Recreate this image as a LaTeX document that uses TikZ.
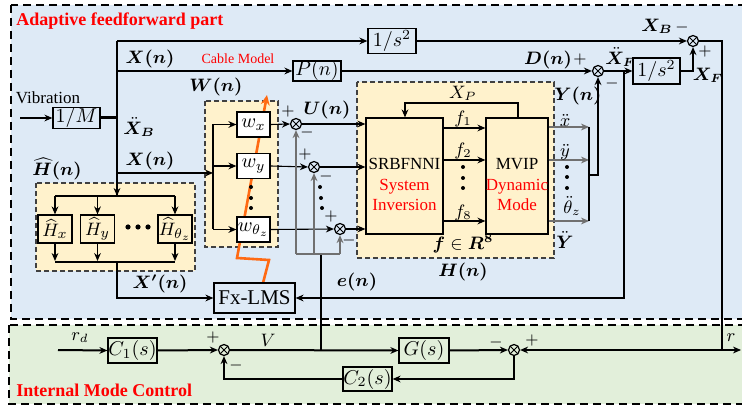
\documentclass[tikz,border=0pt]{standalone}
\usepackage{fontspec}
\setmainfont{Liberation Serif}
\usepackage{amsmath,bm}
\usetikzlibrary{arrows.meta}
\definecolor{bgblue}{HTML}{DEEAF6}
\definecolor{bgyel}{HTML}{FFF2CC}
\definecolor{bggreen}{HTML}{E2EFDA}
\definecolor{orng}{HTML}{FF6A13}
\definecolor{gline}{HTML}{707070}
\tikzset{
  outer/.style={draw=black, dash pattern=on 4pt off 2.5pt, line width=1pt},
  inbox/.style={draw=black!75, fill=bgyel, dash pattern=on 2.5pt off 1.5pt, line width=0.6pt},
  ttl/.style={text=red, font=\fontsize{9}{10}\selectfont\bfseries, inner sep=0pt, anchor=west},
  lbl/.style={font=\fontsize{8.6}{9}\selectfont, inner sep=0pt},
  sgn/.style={font=\fontsize{8}{9}\selectfont, inner sep=0pt},
  txt/.style={font=\fontsize{8.5}{10}\selectfont, inner sep=0pt},
  rtxt/.style={font=\fontsize{8.5}{10}\selectfont, inner sep=0pt, text=red},
  bx/.style={draw, line width=0.6pt, inner sep=0pt, font=\fontsize{10}{12}\selectfont},
  wbx/.style={bx, fill=white, minimum width=16.5pt, minimum height=12.5pt},
  hbx/.style={bx, minimum width=17pt, minimum height=14pt, font=\fontsize{9.5}{11}\selectfont},
  sumj/.style={circle, draw, line width=0.6pt, minimum size=5.5pt, inner sep=0pt,
    path picture={\draw[line width=0.5pt] (path picture bounding box.north west) -- (path picture bounding box.south east)
      (path picture bounding box.north east) -- (path picture bounding box.south west);}},
  thk/.style={line width=1pt},
  thn/.style={line width=0.55pt},
  arr/.style={-{Stealth[length=4pt,width=3.4pt]}},
  gl/.style={draw=gline, line width=0.7pt},
  dotn/.style={circle, fill=black, inner sep=0pt, minimum size=2pt}
}
\begin{document}
\begin{tikzpicture}[x=0.5pt,y=-0.5pt]
\clip (0,0) rectangle (742,410);
\fill[white] (0,0) rectangle (742,410);
% regions
\draw[outer, fill=bgblue] (11,5) rectangle (760,319);
\draw[outer, fill=bggreen] (9,325) rectangle (760,404);
\node[ttl] (t1) at (16,21) {Adaptive feedforward part};
\node[ttl] (t2) at (16,390) {Internal Mode Control};
% yellow dashed groups
\draw[inbox] (205,101) rectangle (278,247);
\draw[inbox] (36,183) rectangle (195,271);
\draw[inbox] (357,82) rectangle (554,258);

% orange adaptation arrow
\coordinate (o1) at (263,283);
\coordinate (o2) at (269,260);
\coordinate (o3) at (237,258);
\coordinate (o4) at (267,95);
\draw[orng, line width=1.3pt, -{Stealth[length=5pt,width=4.5pt]}] (o1) -- (o2) -- (o3) -- (o4);

% boxes
\node[bx, minimum width=23.5pt, minimum height=10.5pt] (M) at (76.5,118) {$1/M$};
\node[bx, minimum width=24pt, minimum height=10pt] (P) at (317,71) {$P(n)$};
\node[bx, minimum width=24pt, minimum height=12.5pt] (S1) at (392,41) {$1/s^2$};
\node[bx, minimum width=23.5pt, minimum height=13pt] (S2) at (656.5,71) {$1/s^2$};
\node[bx, minimum width=40.5pt, minimum height=15pt, font=\fontsize{10.5}{12}\selectfont] (FX) at (254.5,298) {Fx-LMS};
\node[wbx] (wx) at (253.5,124.5) {$w_x$};
\node[wbx] (wy) at (253.5,166) {$w_y$};
\node[wbx] (wt) at (253.5,229.5) {$w_{\theta_z}$};
\node[hbx] (Hx) at (55,229) {$\widehat{H}_x$};
\node[hbx] (Hy) at (97.5,229) {$\widehat{H}_y$};
\node[hbx] (Ht) at (175,229) {$\widehat{H}_{\theta_z}$};
\node[bx, minimum width=38.5pt, minimum height=58pt] (SR) at (404.5,176) {};
\node[bx, minimum width=31pt, minimum height=58pt] (MV) at (517,176) {};
\node[txt] (srt) at (404.5,164) {SRBFNNI};
\node[rtxt] (srt2) at (404.5,187) {System};
\node[rtxt] (srt3) at (404.5,205) {Inversion};
\node[txt] (mvt) at (517,164) {MVIP};
\node[rtxt] (mvt2) at (517,187) {Dynamic};
\node[rtxt] (mvt3) at (517,205) {Mode};
\node[bx, minimum width=24.5pt, minimum height=12.5pt] (C1) at (132.5,350.5) {$C_1(s)$};
\node[bx, minimum width=25pt, minimum height=12.5pt] (G) at (424,350.5) {$G(s)$};
\node[bx, minimum width=24.5pt, minimum height=12pt] (C2) at (367.5,379) {$C_2(s)$};

% sum junctions
\node[sumj] (sB) at (693,41) {};
\node[sumj] (sD) at (598,71) {};
\node[sumj] (sx) at (296,124) {};
\node[sumj] (sy) at (314,167) {};
\node[sumj] (st) at (340,229) {};
\node[sumj] (s1) at (224,350) {};
\node[sumj] (s2) at (514,350) {};

% coordinates
\coordinate (vin) at (20,118);
\coordinate (tr0) at (117,41);
\coordinate (trM) at (117,118);
\coordinate (trX) at (117,71);
\coordinate (trX2) at (117,173);
\coordinate (trH) at (117,196);
\coordinate (wv) at (213,173);
\coordinate (wtop) at (213,124.5);
\coordinate (wbot) at (213,229.5);
\coordinate (hd1) at (55,196);
\coordinate (hd2) at (175,196);
\coordinate (hu1) at (55,262);
\coordinate (hu2) at (175,262);
\coordinate (hout) at (117,262);
\coordinate (hcor) at (117,298);
\coordinate (eb) at (624,71);
\coordinate (ec) at (624,298);
\coordinate (vb) at (321,350);
\coordinate (vt) at (321,254);
\coordinate (g1) at (296,254);
\coordinate (g2) at (340,254);
\coordinate (yb1) at (589,127);
\coordinate (yb2) at (589,221);
\coordinate (ym) at (589,175);
\coordinate (yc) at (598,175);
\coordinate (xf) at (693,71);
\coordinate (rc1) at (722,41);
\coordinate (rc2) at (722,350);
\coordinate (rend) at (741,350);
\coordinate (rdin) at (58,350);
\coordinate (fb1) at (514,379);
\coordinate (fb2) at (224,379);
\coordinate (xp1) at (518,103);
\coordinate (xp2) at (405,103);

% --- adaptive part connections
\draw[thn, arr] (vin) -- (M.west);
\draw[line width=1.5pt] (M.east) -- (trM);
\draw[thk] (tr0) -- (trH);
\draw[thk, arr] (117,41) -- (S1.west);
\draw[thk, arr] (trX) -- (P.west);
\draw[thk, arr] (trX2) -- (wv);
\draw[thn, arr] (trH |- 183,183) -- (trH);
\draw[thn] (hd1) -- (hd2);
\draw[thn, arr] (hd1) -- (Hx.north);
\draw[thn, arr] (Hy.north |- hd1) -- (Hy.north);
\draw[thn, arr] (hd2) -- (Ht.north);
\draw[thn, arr] (Hx.south) -- (55,261);
\draw[thn, arr] (Hy.south) -- (97.5,261);
\draw[thn, arr] (Ht.south) -- (175,261);
\draw[thn] (hu1) -- (hu2);
\draw[thk, arr] (hout) -- (hcor) -- (FX.west);
% W group
\draw[thn] (wtop) -- (wbot);
\draw[thn, arr] (wtop) -- (wx.west);
\draw[thn, arr] (213,166) -- (wy.west);
\draw[thn, arr] (wbot) -- (wt.west);
\draw[thn, arr] (wx.east) -- (sx.west);
\draw[thn, arr] (wy.east) -- (sy.west);
\draw[thn, arr] (wt.east) -- (st.west);
\draw[thn, arr] (sx.east) -- (SR.west |- sx);
\draw[thn, arr] (sy.east) -- (SR.west |- sy);
\draw[thn, arr] (st.east) -- (SR.west |- st);
% error feedback into sums
\draw[thk] (vb) -- (vt);
\draw[gl] (g1) -- (g2);
\draw[gl, arr] (g1) -- (sx.south);
\draw[gl, arr] (sy.south |- vt) -- (sy.south);
\draw[gl, arr] (g2) -- (st.south);
% H block internals
\draw[thn, arr] (MV.north -| xp1) -- (xp1) -- (xp2) -- (SR.north -| xp2);
\draw[thn, arr] (SR.east |- 0,128) -- (MV.west |- 0,128);
\draw[thn, arr] (SR.east |- 0,160) -- (MV.west |- 0,160);
\draw[thn, arr] (SR.east |- 0,221) -- (MV.west |- 0,221);
\draw[gl, arr] (MV.east |- yb1) -- (yb1);
\draw[gl, arr] (MV.east |- 0,160) -- (589,160);
\draw[gl, arr] (MV.east |- yb2) -- (yb2);
\draw[thk] (yb1) -- (yb2);
\draw[thk, arr] (ym) -- (yc) -- (sD.south);
% right side
\draw[thk, arr] (P.east) -- (sD.west);
\draw[thk, arr] (sD.east) -- (S2.west);
\draw[thk, arr] (S2.east) -- (xf) -- (sB.south);
\draw[thk, arr] (S1.east) -- (sB.west);
\draw[thk] (sB.east) -- (rc1) -- (rc2);
\draw[thk, arr] (eb) -- (ec) -- (FX.east);
% --- IMC part
\draw[thk, arr] (rdin) -- (C1.west);
\draw[thk, arr] (C1.east) -- (s1.west);
\draw[thk, arr] (s1.east) -- (G.west);
\draw[thk, arr] (G.east) -- (s2.west);
\draw[thk, arr] (rc2) -- (s2.east);
\draw[thk, arr] (rc2) -- (rend);
\draw[thk, arr] (s2.south) -- (fb1) -- (C2.east);
\draw[thk, arr] (C2.west) -- (fb2) -- (s1.south);

% dots
\foreach \i/\y in {1/187,2/198,3/208} {\node[dotn] (dw\i) at (251,\y) {};}
\foreach \i/\x/\y in {1/320/187,2/321/198,3/322/208} {\node[dotn] (ds\i) at (\x,\y) {};}
\foreach \i/\x in {1/128,2/138,3/148} {\node[dotn, minimum size=2.6pt] (dh\i) at (\x,227) {};}
\foreach \i/\y in {1/167,2/178,3/188} {\node[dotn] (df\i) at (463,\y) {};}
\foreach \i/\y in {1/167,2/177,3/188} {\node[dotn] (dy\i) at (567,\y) {};}

% labels
\node[txt] (lvib) at (48,98) {Vibration};
\node[txt, font=\fontsize{7}{8}\selectfont, text=red] (lcab) at (238,59) {Cable Model};
\node[lbl] (lX1) at (150,59) {$\bm{X(n)}$};
\node[lbl] (lX2) at (150,161) {$\bm{X(n)}$};
\node[lbl, anchor=west] (lXB) at (123,127) {$\ddot{\bm{X}}_{\bm{B}}$};
\node[lbl] (lW) at (216,87) {$\bm{W(n)}$};
\node[lbl] (lHh) at (57,169) {$\widehat{\bm{H}}\bm{(n)}$};
\node[lbl] (lXp) at (160,284) {$\bm{X'(n)}$};
\node[lbl] (le) at (357,282) {$\bm{e(n)}$};
\node[lbl] (lU) at (327,110) {$\bm{U(n)}$};
\node[lbl] (lD) at (548,60) {$\bm{D(n)}$};
\node[lbl] (lY) at (578,96) {$\bm{Y(n)}$};
\node[lbl, anchor=west] (lXF2) at (605,57) {$\ddot{\bm{X}}_{\bm{F}}$};
\node[lbl] (lXF) at (708,75) {$\bm{X_F}$};
\node[lbl] (lXB2) at (657,26) {$\bm{X_B}$};
\node[lbl] (lH) at (463,272) {$\bm{H(n)}$};
\node[lbl] (lfR) at (463,244) {$\bm{f}\in\bm{R}^{\bm{8}}$};
\node[lbl] (lXP) at (463,93) {$X_P$};
\node[lbl, font=\fontsize{9}{10}\selectfont] (lf1) at (463,119) {$f_1$};
\node[lbl, font=\fontsize{9}{10}\selectfont] (lf2) at (463,151) {$f_2$};
\node[lbl, font=\fontsize{9}{10}\selectfont] (lf8) at (463,213) {$f_8$};
\node[lbl, font=\fontsize{9}{10}\selectfont] (lxdd) at (565,120) {$\ddot{x}$};
\node[lbl, font=\fontsize{9}{10}\selectfont] (lydd) at (565,152) {$\ddot{y}$};
\node[lbl, font=\fontsize{9}{10}\selectfont] (ltdd) at (572,206) {$\ddot{\theta}_z$};
\node[lbl, font=\fontsize{9}{10}\selectfont] (lYdd) at (565,240) {$\ddot{\bm{Y}}$};
% signs
\node[sgn] (p1) at (580,60) {$+$};
\node[sgn] (m1) at (612,84) {$-$};
\node[sgn] (m2) at (682,28) {$-$};
\node[sgn] (p2) at (705,52) {$+$};
\node[sgn] (p3) at (288,112) {$+$};
\node[sgn] (m3) at (307,133) {$-$};
\node[sgn] (p4) at (305,155) {$+$};
\node[sgn] (m4) at (326,177) {$-$};
\node[sgn] (p5) at (331,217) {$+$};
\node[sgn] (m5) at (349,241) {$-$};
\node[sgn] (p6) at (213,338) {$+$};
\node[sgn] (m6) at (236,365) {$-$};
\node[sgn] (m7) at (496,342) {$-$};
\node[sgn] (p7) at (532,340) {$+$};
\node[lbl, font=\fontsize{9}{10}\selectfont] (lrd) at (80,338) {$r_d$};
\node[lbl, font=\fontsize{9}{10}\selectfont] (lV) at (268,340) {$V$};
\node[lbl, font=\fontsize{9}{10}\selectfont] (lr) at (731,338) {$r$};
\end{tikzpicture}
\end{document}
